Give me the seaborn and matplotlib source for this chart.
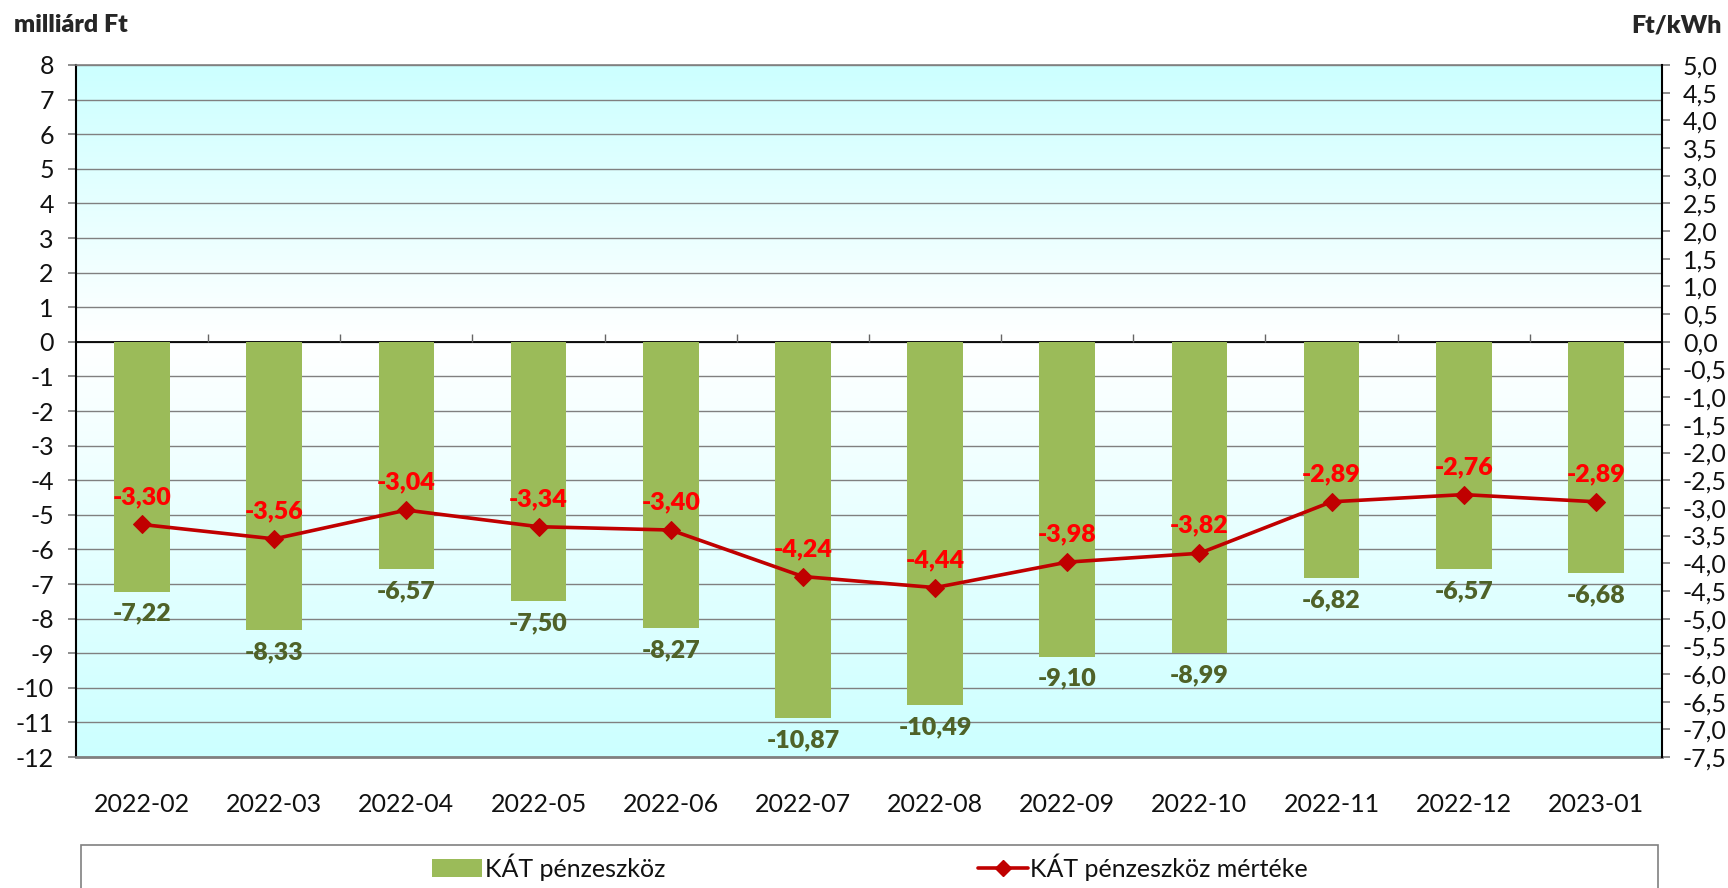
import numpy as np
import pandas as pd
import matplotlib
matplotlib.use('Agg')
import matplotlib.pyplot as plt
import seaborn as sns
from matplotlib.patches import Patch, Rectangle
from matplotlib.lines import Line2D
from matplotlib.ticker import FuncFormatter

months = ['2022-02', '2022-03', '2022-04', '2022-05', '2022-06', '2022-07',
          '2022-08', '2022-09', '2022-10', '2022-11', '2022-12', '2023-01']
kat_amount = [-7.22, -8.33, -6.57, -7.50, -8.27, -10.87,
              -10.49, -9.10, -8.99, -6.82, -6.57, -6.68]
kat_rate = [-3.30, -3.56, -3.04, -3.34, -3.40, -4.24,
            -4.44, -3.98, -3.82, -2.89, -2.76, -2.89]

BAR_COLOR = '#9BBB59'
LINE_COLOR = '#C00000'
FS = 18


def comma(v, decimals):
    return f'{v:.{decimals}f}'.replace('.', ',')


def main():
    df = pd.DataFrame({'honap': months, 'penzeszkoz': kat_amount, 'mertek': kat_rate})
    n = len(months)

    sns.set_theme(style='white')
    plt.rcParams['font.family'] = ['Lato', 'DejaVu Sans']
    plt.rcParams['axes.unicode_minus'] = False

    fig, ax = plt.subplots(figsize=(17.28, 8.88), dpi=100)
    fig.subplots_adjust(left=76 / 1728, right=1662 / 1728, top=1 - 65 / 888, bottom=1 - 757 / 888)

    # background gradient: cyan at the edges, white at zero
    ys = np.linspace(8, -12, 400)
    t = np.where(ys >= 0, ys / 8, -ys / 12)[:, None, None]
    white = np.array([1.0, 1.0, 1.0])
    cyan = np.array([0.80, 1.0, 1.0])
    img = white * (1 - t) + cyan * t
    ax.imshow(img, extent=[-0.5, n - 0.5, -12, 8], aspect='auto', zorder=0)

    sns.barplot(data=df, x='honap', y='penzeszkoz', color=BAR_COLOR, saturation=1,
                width=0.42, ax=ax, zorder=3, linewidth=0)
    ax.set_xlim(-0.5, n - 0.5)
    ax.set_ylim(-12, 8)
    ax.set_yticks(range(-12, 9))
    ax.set_axisbelow(True)
    ax.grid(axis='y', color='#808080', lw=1)
    ax.axhline(0, color='black', lw=1.3, zorder=2)
    ax.vlines(np.arange(n - 1) + 0.5, 0, 0.22, color='#666666', lw=1, zorder=2)

    for i, v in enumerate(kat_amount):
        ax.annotate(comma(v, 2), (i, v), xytext=(0, -8), textcoords='offset points',
                    ha='center', va='top', color='#4F6228', fontweight='heavy', fontsize=FS,
                    zorder=5)

    ax2 = ax.twinx()
    sns.lineplot(x=np.arange(n), y=kat_rate, ax=ax2, color=LINE_COLOR, lw=2.6,
                 marker='D', markersize=9, markeredgecolor=LINE_COLOR, legend=False)
    ax2.set_ylim(-7.5, 5)
    ax2.set_yticks(np.arange(-7.5, 5.01, 0.5))
    ax2.yaxis.set_major_formatter(FuncFormatter(lambda v, p: comma(v, 1)))
    for i, v in enumerate(kat_rate):
        ax2.annotate(comma(v, 2), (i, v), xytext=(0, 12), textcoords='offset points',
                     ha='center', va='bottom', color='#FF0000', fontweight='heavy', fontsize=FS)

    ax.set_xlabel('')
    ax.set_ylabel('')
    ax2.set_ylabel('')

    ax.spines['left'].set_color('black')
    ax.spines['left'].set_linewidth(1.5)
    ax.spines['bottom'].set_color('#808080')
    ax.spines['bottom'].set_linewidth(2)
    ax.spines['top'].set_color('#808080')
    ax.spines['top'].set_linewidth(1.2)
    ax.spines['right'].set_visible(False)
    for s in ['left', 'top', 'bottom']:
        ax2.spines[s].set_visible(False)
    ax2.spines['right'].set_color('black')
    ax2.spines['right'].set_linewidth(1.5)

    ax.tick_params(axis='y', left=True, length=6, color='#808080', labelsize=FS, pad=10,
                   labelcolor='#111111')
    ax.tick_params(axis='x', length=0, labelsize=FS, pad=26, labelcolor='#111111')
    ax2.tick_params(axis='y', right=True, length=6, color='#808080', labelsize=FS, pad=9,
                    labelcolor='#111111')

    fig.text(14 / 1728, 1 - 25 / 888, 'milliárd Ft', fontweight='heavy', fontsize=FS,
             va='center', ha='left')
    fig.text(1722 / 1728, 1 - 25 / 888, 'Ft/kWh', fontweight='heavy', fontsize=FS,
             va='center', ha='right')

    # legend frame
    fig.patches.append(Rectangle((81 / 1728, -0.02), (1658 - 81) / 1728, (888 - 845) / 888 + 0.02,
                                 transform=fig.transFigure, fill=False,
                                 edgecolor='#808080', lw=1.2))
    handles = [Patch(facecolor=BAR_COLOR, edgecolor='none'),
               Line2D([], [], color=LINE_COLOR, marker='D', lw=2.6, markersize=8)]
    fig.legend(handles, ['KÁT pénzeszköz', 'KÁT pénzeszköz mértéke'], ncol=2,
               loc='center', bbox_to_anchor=(870 / 1728, 1 - 867 / 888), frameon=False,
               fontsize=FS, columnspacing=12.5, handlelength=2.0, handletextpad=0.1,
               labelcolor='#111111')

    fig.savefig('out.png', dpi=100)


if __name__ == '__main__':
    main()
